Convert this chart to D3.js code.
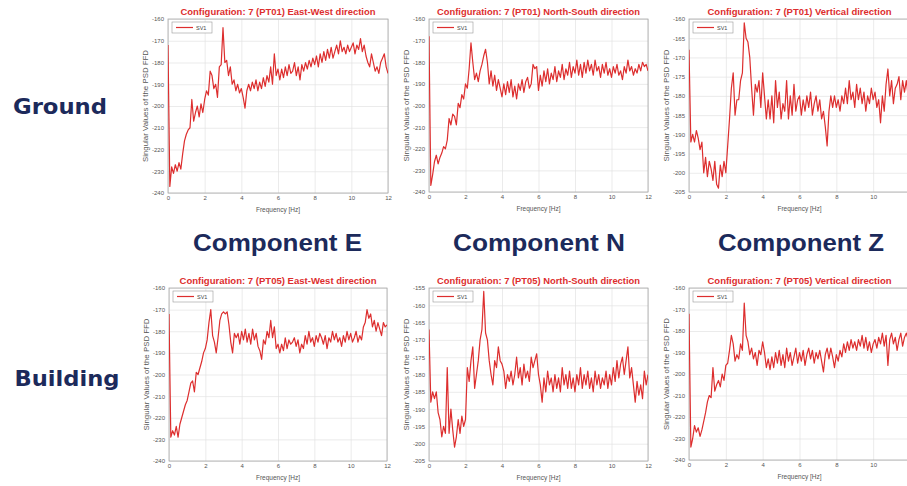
<!DOCTYPE html>
<html><head><meta charset="utf-8">
<script src="https://cdn.jsdelivr.net/npm/d3@7/dist/d3.min.js"></script>
<style>body{margin:0;background:#fff;overflow:hidden;} svg{display:block;}</style>
</head><body><svg id="c" width="907" height="486"></svg>
<script>
// ---- data ----
const freq = [
 0,0.1,0.2,0.3,0.4,0.5,0.6,0.7,0.8,0.9,
 1,1.1,1.2,1.3,1.4,1.5,1.6,1.7,1.8,1.9,
 2,2.1,2.2,2.3,2.4,2.5,2.6,2.7,2.8,2.9,
 3,3.1,3.2,3.3,3.4,3.5,3.6,3.7,3.8,3.9,
 4,4.1,4.2,4.3,4.4,4.5,4.6,4.7,4.8,4.9,
 5,5.1,5.2,5.3,5.4,5.5,5.6,5.7,5.8,5.9,
 6,6.1,6.2,6.3,6.4,6.5,6.6,6.7,6.8,6.9,
 7,7.1,7.2,7.3,7.4,7.5,7.6,7.7,7.8,7.9,
 8,8.1,8.2,8.3,8.4,8.5,8.6,8.7,8.8,8.9,
 9,9.1,9.2,9.3,9.4,9.5,9.6,9.7,9.8,9.9,
 10,10.1,10.2,10.3,10.4,10.5,10.6,10.7,10.8,10.9,
 11,11.1,11.2,11.3,11.4,11.5,11.6,11.7,11.8,11.9,
 12];

const ewGround = [
 -172,-237,-228,-231,-227,-230,-226,-229,-222,-216,
 -213,-211,-210,-197,-207,-203,-200,-205,-199,-203,
 -197,-193,-195,-184,-186,-192,-190,-196,-182,-181,
 -164,-180,-179,-186,-182,-190,-188,-193,-190,-194,
 -192,-196,-201,-193,-190,-193,-189,-192,-188,-193,
 -189,-192,-187,-191,-186,-189,-182,-190,-176,-186,
 -183,-188,-183,-187,-182,-186,-181,-185,-184,-180,
 -186,-182,-188,-181,-184,-180,-183,-179,-182,-178,
 -181,-177,-182,-176,-180,-175,-179,-174,-178,-173,
 -178,-175,-172,-176,-170,-175,-173,-176,-172,-175,
 -173,-171,-176,-172,-174,-169,-175,-172,-177,-180,
 -182,-176,-180,-184,-182,-185,-180,-178,-176,-182,
 -185];

const nsGround = [
 -168,-237,-232,-226,-223,-227,-224,-222,-219,-220,
 -216,-206,-209,-204,-205,-209,-199,-201,-195,-197,
 -190,-192,-183,-171,-180,-188,-185,-189,-184,-181,
 -177,-174,-180,-190,-184,-191,-186,-193,-188,-192,
 -196,-190,-195,-189,-194,-188,-196,-191,-197,-190,
 -193,-188,-194,-189,-187,-192,-190,-181,-183,-182,
 -193,-186,-191,-184,-189,-183,-190,-185,-188,-182,
 -189,-184,-187,-181,-188,-183,-186,-180,-187,-182,
 -185,-179,-186,-181,-187,-180,-185,-179,-184,-181,
 -186,-179,-184,-182,-187,-181,-185,-180,-186,-183,
 -187,-182,-185,-181,-186,-184,-188,-182,-185,-179,
 -184,-182,-186,-183,-185,-181,-184,-180,-182,-181,
 -184];

const zGround = [
 -168,-192,-190,-192,-189,-191,-194,-192,-200,-196,
 -201,-197,-199,-202,-197,-203,-204,-198,-201,-197,
 -200,-193,-186,-178,-174,-185,-181,-181,-176,-174,
 -161,-165,-166,-170,-178,-185,-177,-179,-176,-183,
 -174,-180,-186,-181,-186,-180,-187,-176,-183,-179,
 -186,-182,-184,-176,-186,-180,-185,-177,-184,-181,
 -180,-185,-181,-184,-180,-183,-179,-185,-182,-180,
 -184,-181,-186,-184,-188,-193,-184,-180,-183,-180,
 -183,-181,-184,-180,-182,-178,-182,-176,-181,-179,
 -183,-177,-181,-178,-182,-179,-184,-180,-182,-178,
 -181,-179,-183,-181,-187,-180,-184,-177,-173,-180,
 -176,-182,-178,-177,-175,-181,-176,-179,-176,-180,
 -177];

const ewBuilding = [
 -172,-229,-226,-228,-224,-229,-223,-220,-217,-214,
 -212,-208,-204,-203,-208,-199,-200,-197,-194,-190,
 -188,-184,-176,-170,-182,-185,-190,-183,-175,-172,
 -171,-172,-171,-177,-185,-190,-181,-183,-181,-186,
 -180,-184,-179,-185,-181,-186,-179,-184,-181,-187,
 -189,-193,-184,-186,-180,-183,-175,-183,-178,-188,
 -186,-190,-186,-189,-183,-188,-184,-186,-185,-183,
 -187,-184,-190,-186,-188,-182,-186,-180,-185,-183,
 -187,-182,-185,-181,-183,-186,-182,-188,-183,-185,
 -180,-184,-181,-185,-183,-187,-182,-185,-180,-184,
 -181,-185,-183,-180,-185,-182,-184,-178,-176,-170,
 -174,-172,-178,-175,-180,-176,-179,-182,-176,-178,
 -177];

const nsBuilding = [
 -167,-188,-185,-187,-185,-191,-193,-198,-195,-197,
 -178,-197,-190,-196,-201,-198,-193,-197,-192,-195,
 -193,-178,-182,-176,-172,-184,-180,-176,-170,-167,
 -156,-168,-170,-176,-180,-183,-176,-178,-172,-176,
 -177,-179,-184,-180,-182,-179,-183,-180,-175,-181,
 -178,-183,-177,-181,-179,-182,-175,-178,-176,-174,
 -180,-183,-188,-181,-185,-179,-183,-181,-185,-180,
 -184,-181,-185,-178,-183,-180,-184,-179,-184,-181,
 -185,-180,-183,-178,-184,-180,-183,-179,-184,-181,
 -185,-179,-183,-180,-184,-181,-183,-179,-184,-180,
 -183,-178,-182,-176,-181,-177,-175,-180,-176,-172,
 -181,-178,-183,-188,-182,-186,-183,-187,-179,-183,
 -180];

const zBuilding = [
 -172,-234,-230,-224,-227,-225,-229,-226,-222,-218,
 -213,-210,-211,-197,-208,-205,-203,-206,-200,-203,
 -196,-195,-189,-182,-186,-194,-191,-193,-186,-189,
 -167,-182,-185,-191,-188,-193,-190,-196,-189,-191,
 -185,-190,-197,-193,-198,-192,-197,-190,-195,-189,
 -196,-191,-197,-188,-194,-190,-196,-192,-188,-195,
 -190,-194,-189,-196,-191,-188,-193,-189,-195,-190,
 -193,-189,-194,-199,-191,-188,-193,-188,-192,-197,
 -191,-194,-189,-192,-186,-190,-185,-189,-184,-188,
 -185,-189,-184,-187,-182,-188,-183,-189,-185,-190,
 -186,-184,-188,-183,-186,-181,-187,-182,-196,-184,
 -181,-186,-183,-189,-184,-181,-187,-183,-181,-184,
 -182];

const xTicks = [0,2,4,6,8,10,12];
const yTicks240 = [-240,-230,-220,-210,-200,-190,-180,-170,-160];
const yTicks205 = [-205,-200,-195,-190,-185,-180,-175,-170,-165,-160];
const yTicks155 = [-205,-200,-195,-190,-185,-180,-175,-170,-165,-160,-155];

const titles = [
 "Configuration: 7 (PT01) East-West direction",
 "Configuration: 7 (PT01) North-South direction",
 "Configuration: 7 (PT01) Vertical direction",
 "Configuration: 7 (PT05) East-West direction",
 "Configuration: 7 (PT05) North-South direction",
 "Configuration: 7 (PT05) Vertical direction"
];
const seriesName = "SV1";
const rowLabels = ["Ground","Building"];
const colLabels = ["Component E","Component N","Component Z"];

// ---- layout ----
const panels = [
 {title:titles[0], values:ewGround,  yt:yTicks240, box:[168,19,388,193], tw:195},
 {title:titles[1], values:nsGround,  yt:yTicks240, box:[429,19,648,192], tw:203},
 {title:titles[2], values:zGround,   yt:yTicks205, box:[689,19,910,192], tw:184},
 {title:titles[3], values:ewBuilding,yt:yTicks240, box:[169,288,387,461], tw:197},
 {title:titles[4], values:nsBuilding,yt:yTicks155, box:[429,288,648,461], tw:203},
 {title:titles[5], values:zBuilding, yt:yTicks240, box:[689,288,910,460], tw:184}
];

const svg = d3.select("#c");
svg.append("rect").attr("width",907).attr("height",486).attr("fill","#fff");
const navy = "#1c2a5b";
const red = "#dd2e2e";
const font = "'Liberation Sans', Arial, sans-serif";

panels.forEach((p,i)=>{
  const [x0,y0,x1,y1] = p.box;
  const x = d3.scaleLinear().domain([0,12]).range([x0,x1]);
  const y = d3.scaleLinear().domain([p.yt[0], p.yt[p.yt.length-1]]).range([y1,y0]);
  const g = svg.append("g");

  // grid + tick labels via axes
  const gx = g.append("g").attr("transform",`translate(0,${y1})`)
    .call(d3.axisBottom(x).tickValues(xTicks).tickSize(-(y1-y0)).tickPadding(3).tickFormat(d3.format("d")));
  const gy = g.append("g").attr("transform",`translate(${x0},0)`)
    .call(d3.axisLeft(y).tickValues(p.yt).tickSize(-(x1-x0)).tickPadding(4).tickFormat(d=>String(d).replace("-","-")));
  [gx,gy].forEach(a=>{
    a.select(".domain").remove();
    a.selectAll("line").attr("stroke","#e2e2e2").attr("stroke-width",0.7);
    a.selectAll("text").attr("fill","#555").attr("font-size","6px").attr("font-family",font);
  });

  // frame
  g.append("rect").attr("x",x0).attr("y",y0).attr("width",x1-x0).attr("height",y1-y0)
    .attr("fill","none").attr("stroke","#a8a8a8").attr("stroke-width",0.8);

  // clip
  const cid = "clip"+i;
  svg.append("clipPath").attr("id",cid).append("rect")
    .attr("x",x0).attr("y",y0).attr("width",x1-x0).attr("height",y1-y0);

  const line = d3.line().x((d,k)=>x(freq[k])).y(d=>y(d));
  g.append("path").datum(p.values).attr("clip-path",`url(#${cid})`)
    .attr("d",line).attr("fill","none").attr("stroke",red).attr("stroke-width",1.2)
    .attr("stroke-linejoin","round");

  // legend
  const lg = g.append("g").attr("transform",`translate(${x0+4},${y0+3})`);
  lg.append("rect").attr("width",40).attr("height",11).attr("fill","#fff").attr("stroke","#999").attr("stroke-width",0.6);
  lg.append("line").attr("x1",4).attr("x2",21).attr("y1",5.5).attr("y2",5.5).attr("stroke",red).attr("stroke-width",1.2);
  lg.append("text").attr("x",24).attr("y",7.5).text(seriesName).attr("font-size","5.5px").attr("fill","#444").attr("font-family",font);

  // title
  g.append("text").attr("x",(x0+x1)/2).attr("y",y0-4).attr("text-anchor","middle")
    .attr("font-family",font).attr("font-weight","bold").attr("font-size","8.5px").attr("fill",red)
    .attr("textLength",p.tw).attr("lengthAdjust","spacingAndGlyphs").text(p.title);

  // x label
  g.append("text").attr("x",(x0+x1)/2).attr("y",y1+19).attr("text-anchor","middle")
    .attr("font-family",font).attr("font-size","6.5px").attr("fill","#555").text("Frequency [Hz]");

  // y label
  g.append("text").attr("transform",`translate(${x0-20},${(y0+y1)/2}) rotate(-90)`).attr("text-anchor","middle")
    .attr("font-family",font).attr("font-size","6.5px").attr("fill","#555")
    .attr("textLength",112).attr("lengthAdjust","spacingAndGlyphs").text("Singular Values of the PSD FFD");
});

// row labels
svg.append("text").attr("x",60).attr("y",114).attr("text-anchor","middle")
  .attr("font-family","'DejaVu Sans', Verdana, sans-serif").attr("font-weight","bold").attr("font-size","22px")
  .attr("fill",navy).attr("textLength",94).attr("lengthAdjust","spacingAndGlyphs").text(rowLabels[0]);
svg.append("text").attr("x",67).attr("y",386).attr("text-anchor","middle")
  .attr("font-family","'DejaVu Sans', Verdana, sans-serif").attr("font-weight","bold").attr("font-size","22px")
  .attr("fill",navy).attr("textLength",105).attr("lengthAdjust","spacingAndGlyphs").text(rowLabels[1]);

// column labels
const colPos = [[193,362],[453,625],[718,884]];
colLabels.forEach((t,i)=>{
  svg.append("text").attr("x",colPos[i][0]).attr("y",251)
    .attr("font-family",font).attr("font-weight","bold").attr("font-size","23px")
    .attr("fill",navy).attr("textLength",colPos[i][1]-colPos[i][0]).attr("lengthAdjust","spacingAndGlyphs").text(t);
});
</script></body></html>
